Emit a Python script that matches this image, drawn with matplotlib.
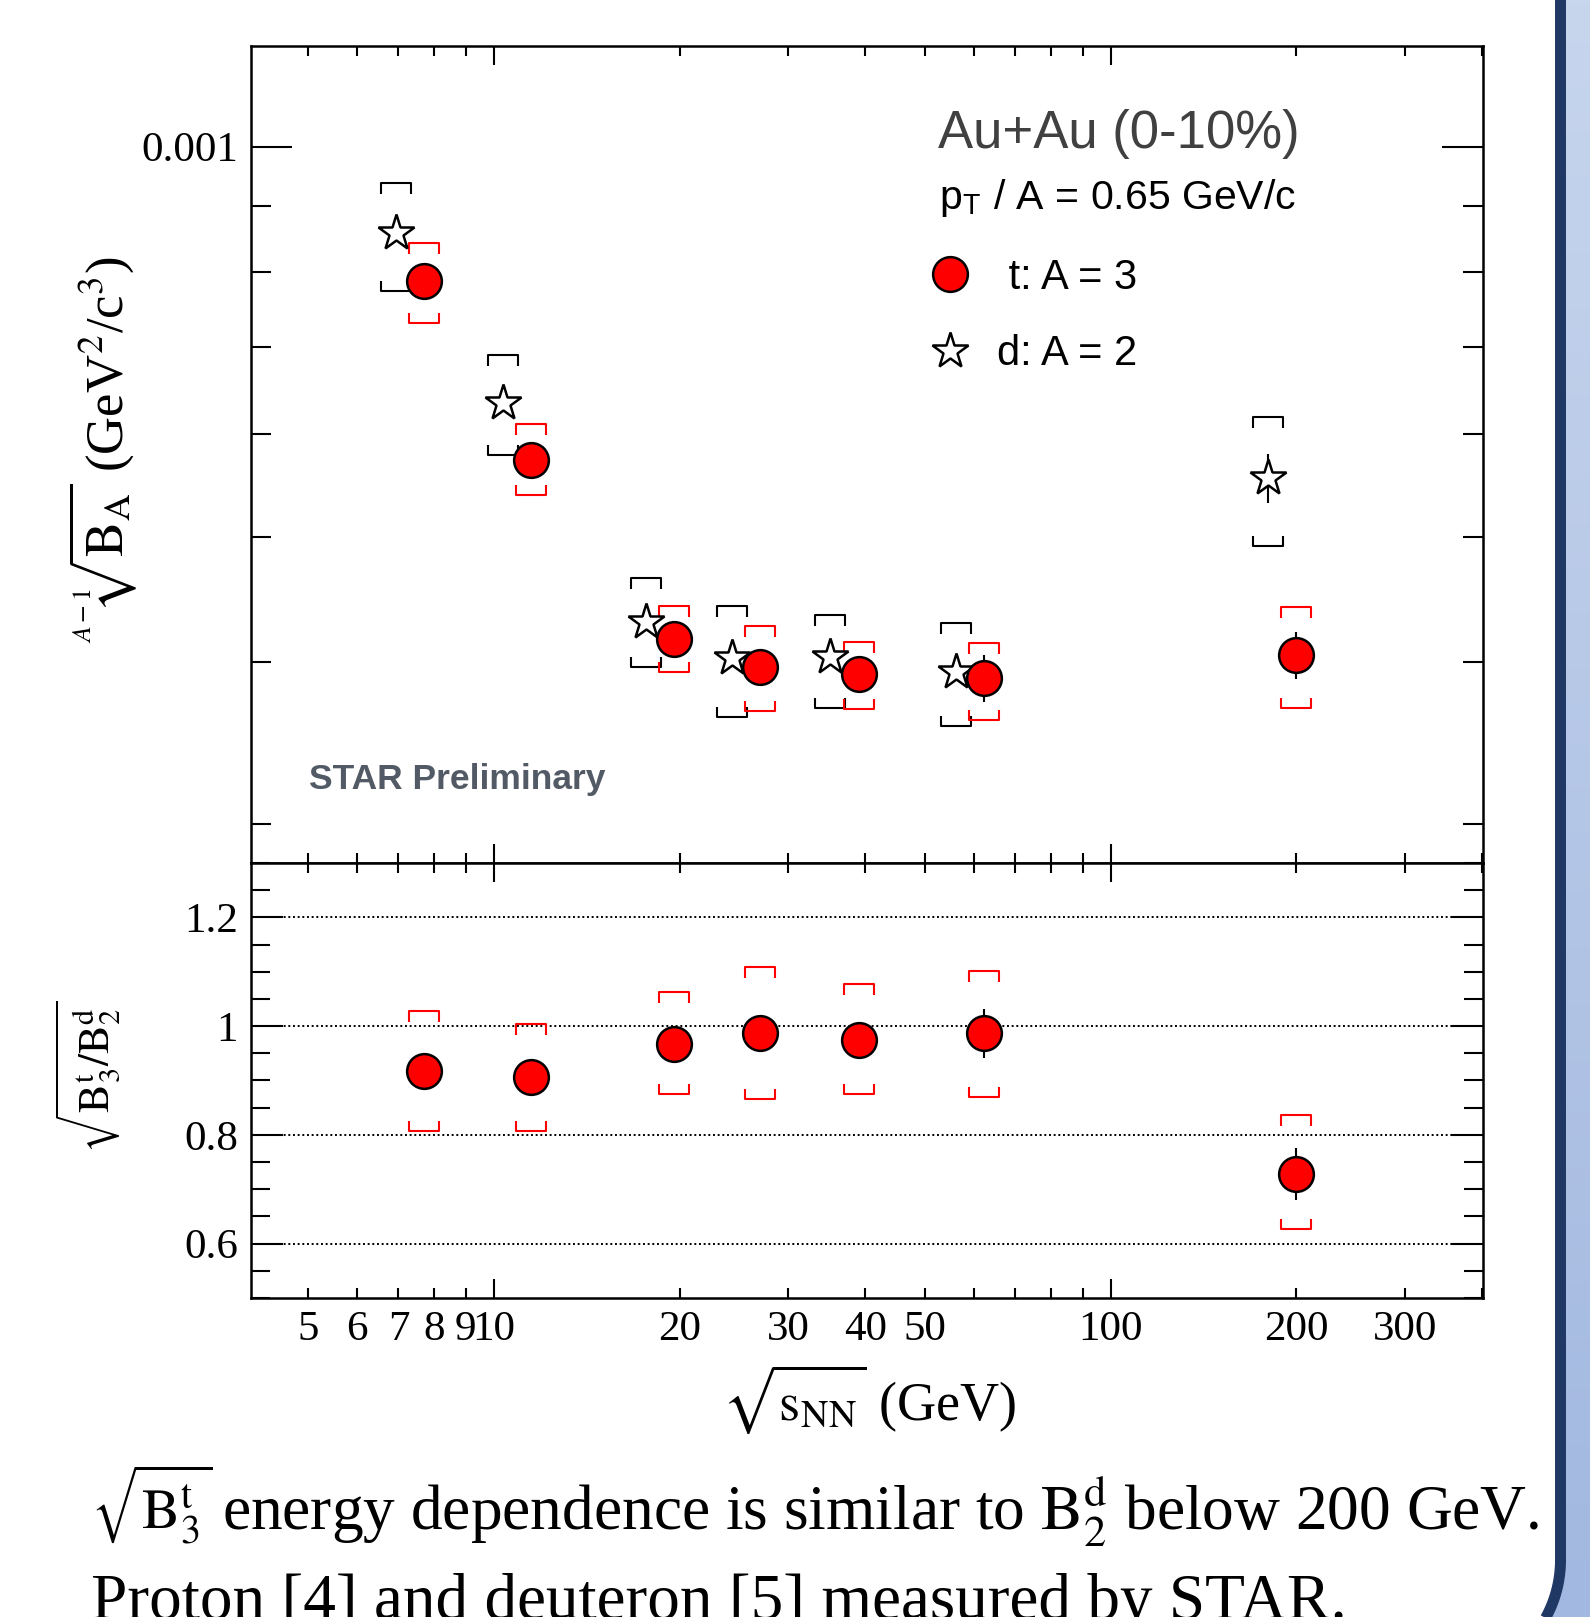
import numpy as np
import matplotlib
matplotlib.use('Agg')
import matplotlib.pyplot as plt
from matplotlib.path import Path
from matplotlib.colors import LinearSegmentedColormap
from matplotlib.ticker import (FixedLocator, LogLocator, MultipleLocator,
                               FuncFormatter, NullFormatter)

plt.rcParams['font.family'] = 'serif'
plt.rcParams['font.serif'] = ['Liberation Serif', 'DejaVu Serif']
plt.rcParams['mathtext.fontset'] = 'stix'

# collision energies (GeV)
energy = [7.7, 11.5, 19.6, 27, 39, 62.4, 200]
d_shift = 0.9  # deuteron points are drawn slightly to the left

# triton: (B3)^(1/2)
t_val = [7.87e-4, 5.73e-4, 4.17e-4, 3.97e-4, 3.92e-4, 3.89e-4, 4.05e-4]
t_stat = [8e-6, 6e-6, 5e-6, 6e-6, 7e-6, 1.6e-5, 1.7e-5]
t_sys_hi = [8.42e-4, 6.11e-4, 4.42e-4, 4.27e-4, 4.15e-4, 4.14e-4, 4.41e-4]
t_sys_lo = [7.31e-4, 5.38e-4, 3.93e-4, 3.67e-4, 3.68e-4, 3.61e-4, 3.69e-4]

# deuteron: B2
d_val = [8.57e-4, 6.34e-4, 4.30e-4, 4.03e-4, 4.04e-4, 3.93e-4, 5.55e-4]
d_stat = [4e-6, 3e-6, 2e-6, 2e-6, 2e-6, 3e-6, 2.4e-5]
d_sys_hi = [9.38e-4, 6.90e-4, 4.65e-4, 4.42e-4, 4.35e-4, 4.29e-4, 6.19e-4]
d_sys_lo = [7.74e-4, 5.78e-4, 3.97e-4, 3.63e-4, 3.69e-4, 3.57e-4, 4.92e-4]

# ratio sqrt(B3^t / B2^d)
ratio = [0.917, 0.906, 0.968, 0.987, 0.975, 0.987, 0.728]
ratio_stat = [0.015, 0.015, 0.012, 0.015, 0.015, 0.045, 0.047]
ratio_sys_hi = [1.028, 1.004, 1.062, 1.109, 1.077, 1.102, 0.836]
ratio_sys_lo = [0.808, 0.808, 0.875, 0.866, 0.875, 0.870, 0.626]

x_labels = [5, 6, 7, 8, 9, 10, 20, 30, 40, 50, 100, 200, 300]

d_x = [e * d_shift for e in energy]

# bracket shapes for systematic errors
cap_top = Path([(-1, -0.7), (-1, 0), (1, 0), (1, -0.7)],
               [Path.MOVETO, Path.LINETO, Path.LINETO, Path.LINETO])
cap_bot = Path([(-1, 0.7), (-1, 0), (1, 0), (1, 0.7)],
               [Path.MOVETO, Path.LINETO, Path.LINETO, Path.LINETO])


def brackets(ax, x, lo, hi, color):
    for y, m in ((hi, cap_top), (lo, cap_bot)):
        ax.plot(x, y, ls='none', marker=m, ms=21.6, mfc='none', mec=color,
                mew=1.5, zorder=2)


fig = plt.figure(figsize=(15.9, 16.17), dpi=100)

# slide border on the right
deco = fig.add_axes([0, 0, 1, 1], zorder=-1)
grad = np.linspace(0, 1, 256)[:, None]
edge_cmap = LinearSegmentedColormap.from_list('edge', ['#c7d5ed', '#a2b8e0'])
deco.imshow(grad, cmap=edge_cmap, extent=[1530, 1590, 1617, 0], aspect='auto')
R = 120.0
y_turn = 1560
yy = np.linspace(y_turn, 1625, 60)
xx = 1560.5 - R + np.sqrt(R ** 2 - (yy - y_turn) ** 2)
edge_y = np.r_[-10, yy]
edge_x = np.r_[1560.5, xx]
deco.fill_betweenx(edge_y, 1500, edge_x, color='white', lw=0)
deco.plot(edge_x, edge_y, color='#203864', lw=7.9, solid_capstyle='butt')
deco.set_xlim(0, 1590)
deco.set_ylim(1617, 0)
deco.axis('off')

ax1 = fig.add_axes([0.1576, 0.4663, 0.775, 0.505])
ax2 = fig.add_axes([0.1576, 0.1973, 0.775, 0.269], sharex=ax1)

# top panel
ax1.errorbar(d_x, d_val, yerr=d_stat, fmt='none', ecolor='k', elinewidth=1.5, zorder=2)
ax1.errorbar(energy, t_val, yerr=t_stat, fmt='none', ecolor='k', elinewidth=1.5, zorder=2)
brackets(ax1, d_x, d_sys_lo, d_sys_hi, 'k')
brackets(ax1, energy, t_sys_lo, t_sys_hi, 'red')
h_d, = ax1.plot(d_x, d_val, ls='none', marker='*', ms=27, mfc='white', mec='k',
                mew=1.8, zorder=3)
h_t, = ax1.plot(energy, t_val, ls='none', marker='o', ms=25, mfc='red', mec='k',
                mew=1.8, zorder=4)

ax1.set_yscale('log')
ax1.set_ylim(2.8e-4, 1.195e-3)
ax1.yaxis.set_major_locator(FixedLocator([1e-3]))
ax1.yaxis.set_major_formatter(FuncFormatter(lambda v, p: '0.001'))
ax1.yaxis.set_minor_locator(LogLocator(base=10, subs=np.arange(2, 10), numticks=20))
ax1.yaxis.set_minor_formatter(NullFormatter())
ax1.tick_params(axis='y', which='major', length=29.5, labelsize=32)
ax1.tick_params(axis='y', which='minor', length=14.7)

ax1.text(0.558, 0.876, 'Au+Au (0-10%)', transform=ax1.transAxes, fontsize=38,
         family='Liberation Sans', color='#404040', va='baseline')
ax1.text(0.559, 0.8005, r'$\mathregular{p}_\mathregular{T}$ / A = 0.65 GeV/c',
         transform=ax1.transAxes, fontsize=29.5, family='Liberation Sans',
         va='baseline')
ax1.text(0.0474, 0.0906, 'STAR Preliminary', transform=ax1.transAxes, fontsize=25.5,
         family='Liberation Sans', weight='bold', color='#525a66', va='baseline')
ax1.legend(handles=[h_t, h_d], labels=[' t: A = 3', 'd: A = 2'], loc='upper left',
           bbox_to_anchor=(0.551, 0.741), frameon=False,
           prop={'family': 'Liberation Sans', 'size': 30}, handlelength=1.0,
           handletextpad=0.61, labelspacing=0.87, borderpad=0, borderaxespad=0,
           numpoints=1)

# bottom panel
ax2.errorbar(energy, ratio, yerr=ratio_stat, fmt='none', ecolor='k', elinewidth=1.5, zorder=2)
brackets(ax2, energy, ratio_sys_lo, ratio_sys_hi, 'red')
ax2.plot(energy, ratio, ls='none', marker='o', ms=25, mfc='red', mec='k', mew=1.8, zorder=4)
ax2.set_ylim(0.5, 1.3)
ax2.yaxis.set_major_locator(MultipleLocator(0.2))
ax2.yaxis.set_minor_locator(MultipleLocator(0.05))
ax2.yaxis.set_major_formatter(FuncFormatter(lambda v, p: '%g' % round(v, 2)))
ax2.yaxis.grid(True, which='major', linestyle=(0, (1, 1.4)), color='k', lw=1.4)
ax2.tick_params(axis='y', which='major', length=23)
ax2.tick_params(axis='y', which='minor', length=13.7)

for ax in (ax1, ax2):
    ax.set_xscale('log')
    ax.set_xlim(4.03, 401)
    ax.xaxis.set_major_locator(FixedLocator([10, 100]))
    ax.xaxis.set_minor_locator(LogLocator(base=10, subs=np.arange(2, 10), numticks=20))
    ax.tick_params(which='both', direction='in', top=True, right=True, width=1.5,
                   labelsize=31, pad=9)
    ax.tick_params(axis='x', which='major', length=14)
    ax.tick_params(axis='x', which='minor', length=7.5)
    for s in ax.spines.values():
        s.set_linewidth(1.8)

ax1.tick_params(axis='x', which='both', labelbottom=False)
ax2.xaxis.set_major_formatter(FuncFormatter(lambda v, p: '%g' % v))
ax2.xaxis.set_minor_formatter(FuncFormatter(
    lambda v, p: '%g' % round(v) if round(v) in x_labels else ''))
ax2.tick_params(axis='x', which='both', pad=9)

fig.text(0.0648, 0.7223, r'$\sqrt[A-1]{\mathrm{B}_\mathrm{A}}$ (GeV$^2$/c$^3$)',
         rotation=90, ha='center', va='center', fontsize=38)
fig.text(0.0553, 0.334, r'$\sqrt{\mathrm{B}^\mathrm{t}_3/\mathrm{B}^\mathrm{d}_2}$',
         rotation=90, ha='center', va='center', fontsize=31)
fig.text(0.5465, 0.1342, r'$\sqrt{\mathrm{s}_\mathrm{NN}}$ (GeV)', ha='center',
         va='center', fontsize=39)

fig.text(91 / 1590, 0.054, r'$\sqrt{\mathrm{B}^\mathrm{t}_3}$', fontsize=41,
         va='baseline')
fig.text(221.7 / 1590, 0.054,
         r'energy dependence is similar to $\mathrm{B}^\mathrm{d}_2$ below 200 GeV.',
         fontsize=45.6, va='baseline')
fig.text(91 / 1590, -0.0012, 'Proton [4] and deuteron [5] measured by STAR.',
         fontsize=47, va='baseline')

fig.savefig('out.png', dpi=100)
